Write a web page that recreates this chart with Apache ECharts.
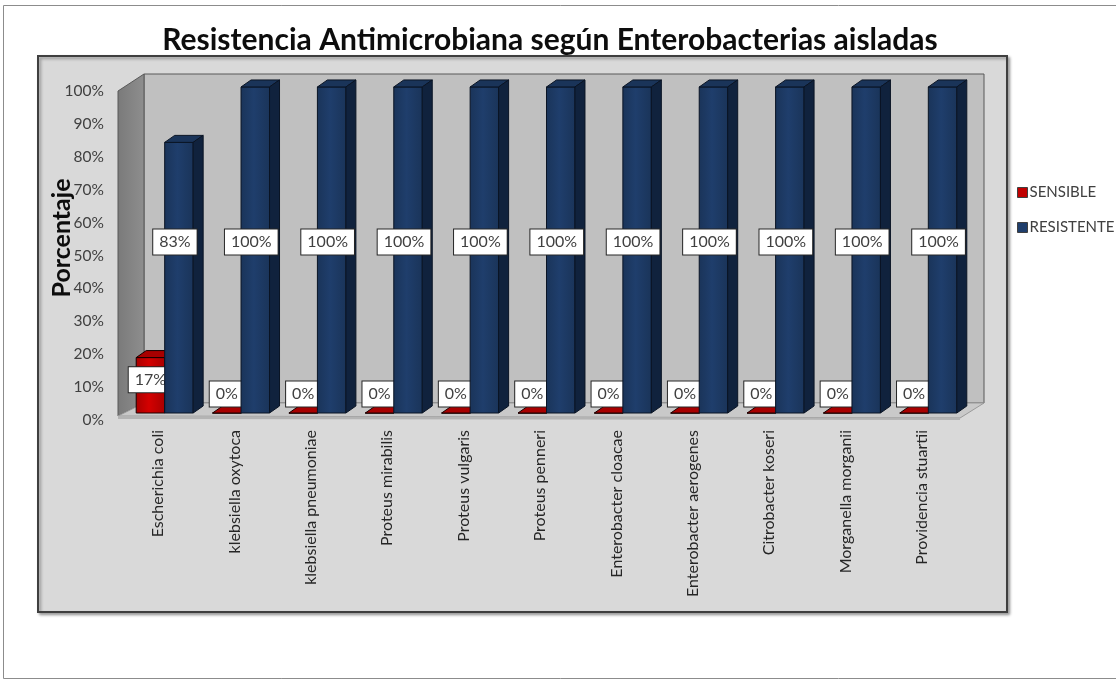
<!DOCTYPE html>
<html>
<head>
<meta charset="utf-8">
<script src="https://cdn.jsdelivr.net/npm/echarts@6/dist/echarts.min.js"></script>
<style>
  html, body { margin: 0; padding: 0; background: #ffffff; }
  #chart { width: 1116px; height: 681px; }
</style>
</head>
<body>
<div id="chart"></div>
<script>
// Enterobacterias aisladas y porcentaje de sensibilidad / resistencia
const categories = [
  'Escherichia coli', 'klebsiella oxytoca', 'klebsiella pneumoniae',
  'Proteus mirabilis', 'Proteus vulgaris', 'Proteus penneri',
  'Enterobacter cloacae', 'Enterobacter aerogenes', 'Citrobacter koseri',
  'Morganella morganii', 'Providencia stuartii'
];
const sensible   = [17, 0, 0, 0, 0, 0, 0, 0, 0, 0, 0];
const resistente = [83, 100, 100, 100, 100, 100, 100, 100, 100, 100, 100];
const yTicks = [0, 10, 20, 30, 40, 50, 60, 70, 80, 90, 100];

const FONT = 'Lato, "Open Sans", sans-serif';

// depth of the 3D box and of each column
const WALL_DX = 24, WALL_DY = -17;
const BAR_DX = 10, BAR_DY = -7;
const BAR_SHIFT_X = 6.5, BAR_SHIFT_Y = -7;

const palette = {
  SENSIBLE:   { front: '#d40000', side: '#7a0000', top: '#a80000', stroke: '#1a0000' },
  RESISTENTE: { front: '#1f3e6c', side: '#10223d', top: '#1a3459', stroke: '#0a1424' }
};

function wallsRender(params, api) {
  const cs = params.coordSys;
  const x0 = cs.x, x1 = cs.x + cs.width;
  const yT = cs.y, yB = cs.y + cs.height;
  return {
    type: 'group',
    children: [
      { // back wall
        type: 'rect',
        shape: { x: x0 + WALL_DX, y: yT + WALL_DY, width: cs.width, height: cs.height },
        style: { fill: '#c0c0c0', stroke: '#595959', lineWidth: 1 }
      },
      { // left side wall
        type: 'polygon',
        shape: { points: [[x0 - 2, yB - 4], [x0 - 2, yT], [x0 + WALL_DX, yT + WALL_DY], [x0 + WALL_DX, yB + WALL_DY]] },
        style: {
          fill: new echarts.graphic.LinearGradient(0, 0, 1, 0, [
            { offset: 0, color: '#7a7a7a' }, { offset: 1, color: '#8e8e8e' }
          ]),
          stroke: '#595959', lineWidth: 1
        }
      },
      { // floor
        type: 'polygon',
        shape: { points: [[x0 - 2, yB - 4], [x0 + WALL_DX, yB + WALL_DY], [x1 + WALL_DX, yB + WALL_DY], [x1, yB - 2]] },
        style: { fill: '#c9c9c9', stroke: '#9a9a9a', lineWidth: 1 }
      },
      { // floor front edge
        type: 'polygon',
        shape: { points: [[x0 - 2, yB - 4], [x1, yB - 2], [x1, yB], [x0 - 2, yB - 1]] },
        style: { fill: '#b4b4b4' }
      }
    ]
  };
}

function makeBarRender(name, which) {
  const c = palette[name];
  return function (params, api) {
    const idx = api.value(0);
    const v = api.value(1);
    const base = api.coord([idx, 0]);
    const topP = api.coord([idx, v]);
    const band = api.size([1, 0])[0];
    const bw = band * 0.373;
    const cx = base[0] + BAR_SHIFT_X;
    const xL = which === 0 ? cx - bw : cx;
    const y0 = base[1] + BAR_SHIFT_Y;
    const y1 = topP[1] + BAR_SHIFT_Y + (base[1] - topP[1]) * 0.009;
    const h = y0 - y1;
    const full = base[1] - api.coord([idx, 100])[1];

    let ly;
    if (which === 0) ly = y0 - Math.max(h * 0.6, 19);
    else ly = y0 - full * 0.52;
    const lx = xL + bw / 2 - (which === 1 ? 4 : 0);

    return {
      type: 'group',
      children: [
        {
          type: 'rect',
          shape: { x: xL, y: y1, width: bw, height: h },
          style: {
            fill: new echarts.graphic.LinearGradient(0, 0, 1, 0, [
              { offset: 0, color: c.top }, { offset: 0.45, color: c.front }, { offset: 1, color: c.top }
            ]),
            stroke: c.stroke, lineWidth: 1
          }
        },
        {
          type: 'polygon',
          shape: { points: [[xL, y1], [xL + BAR_DX, y1 + BAR_DY], [xL + bw + BAR_DX, y1 + BAR_DY], [xL + bw, y1]] },
          style: { fill: c.top, stroke: c.stroke, lineWidth: 1 }
        },
        {
          type: 'polygon',
          shape: { points: [[xL + bw, y1], [xL + bw + BAR_DX, y1 + BAR_DY], [xL + bw + BAR_DX, y0 + BAR_DY], [xL + bw, y0]] },
          style: { fill: c.side, stroke: c.stroke, lineWidth: 1 }
        },
        {
          type: 'text',
          z2: 100,
          style: {
            x: lx, y: ly,
            text: v + '%',
            align: 'center', verticalAlign: 'middle',
            font: '16px ' + FONT,
            fill: '#404040',
            backgroundColor: '#ffffff',
            borderColor: '#262626', borderWidth: 1,
            padding: [5, 6, 4, 6]
          }
        }
      ]
    };
  };
}

const chart = echarts.init(document.getElementById('chart'), null, { renderer: 'canvas' });

chart.setOption({
  backgroundColor: '#ffffff',
  animation: false,
  title: {
    text: 'Resistencia Antimicrobiana según Enterobacterias aisladas',
    left: 545, top: 20, textAlign: 'center',
    textStyle: { fontFamily: FONT, fontSize: 30, fontWeight: 'bold', color: '#0d0d0d' }
  },
  legend: {
    orient: 'vertical', left: 1012, top: 180, itemGap: 20,
    itemWidth: 10, itemHeight: 10, icon: 'rect',
    textStyle: { fontFamily: FONT, fontSize: 15, color: '#404040', padding: [0, 0, 0, -3] },
    data: [
      { name: 'SENSIBLE', itemStyle: { color: '#c00000', borderColor: '#404040', borderWidth: 1 } },
      { name: 'RESISTENTE', itemStyle: { color: '#1f3e6c', borderColor: '#404040', borderWidth: 1 } }
    ]
  },
  graphic: [
    { type: 'rect', z: -10, shape: { x: 3.5, y: 5.5, width: 1130, height: 673 },
      style: { fill: '#ffffff', stroke: '#8c8c8c', lineWidth: 1 } },
    { type: 'rect', z: -9, shape: { x: 38, y: 56, width: 969, height: 556 },
      style: { fill: '#d9d9d9', stroke: '#3f3f3f', lineWidth: 2,
               shadowBlur: 3, shadowOffsetX: 2, shadowOffsetY: 2, shadowColor: 'rgba(0,0,0,0.35)' } },
    { type: 'text', z: 10, x: 62, y: 238, rotation: Math.PI / 2,
      style: { text: 'Porcentaje', align: 'center', verticalAlign: 'middle',
               font: 'bold 25px ' + FONT, fill: '#0d0d0d' } }
  ],
  grid: { left: 120, right: 156, top: 91, bottom: 261, containLabel: false },
  xAxis: {
    type: 'category',
    data: categories,
    axisLine: { show: false },
    axisTick: { show: false },
    axisLabel: {
      rotate: 90, interval: 0, margin: 10,
      fontFamily: FONT, fontSize: 16, color: '#262626'
    }
  },
  yAxis: {
    type: 'value', min: 0, max: 100, interval: 10,
    axisLine: { show: false },
    axisTick: { show: false },
    splitLine: { show: false },
    axisLabel: {
      margin: 16,
      fontFamily: FONT, fontSize: 15.5, color: '#404040',
      formatter: function (val) { return yTicks.indexOf(val) >= 0 ? val + '%' : ''; }
    }
  },
  series: [
    {
      name: 'walls', type: 'custom', silent: true, z: 1,
      renderItem: wallsRender, data: [[0, 0]],
      legendHoverLink: false
    },
    {
      name: 'SENSIBLE', type: 'custom', z: 2,
      itemStyle: { color: '#c00000' },
      renderItem: makeBarRender('SENSIBLE', 0),
      data: sensible.map((v, i) => [i, v])
    },
    {
      name: 'RESISTENTE', type: 'custom', z: 3,
      itemStyle: { color: '#1f3e6c' },
      renderItem: makeBarRender('RESISTENTE', 1),
      data: resistente.map((v, i) => [i, v])
    }
  ]
});
</script>
</body>
</html>
